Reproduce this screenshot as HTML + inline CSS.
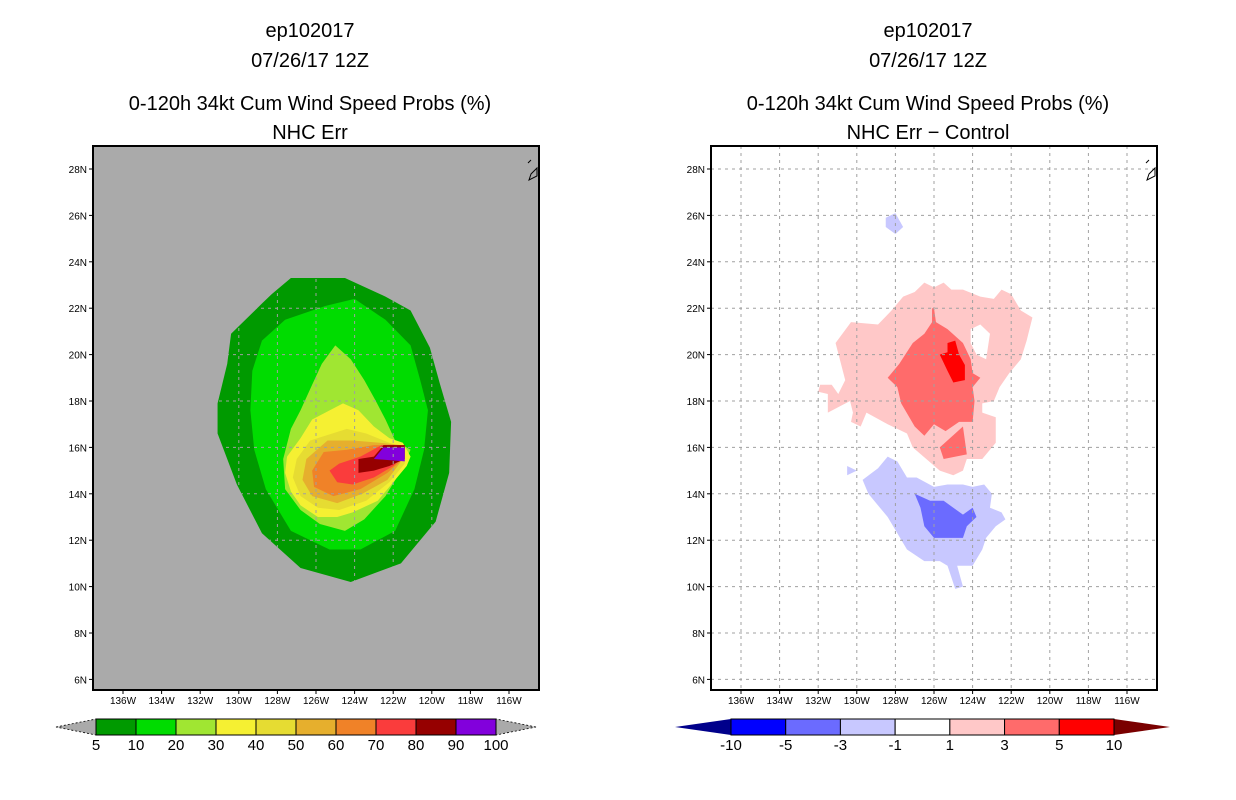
<!DOCTYPE html>
<html><head><meta charset="utf-8"><style>
body{margin:0;background:#fff;width:1236px;height:800px;overflow:hidden}
svg{display:block}
text{font-family:"Liberation Sans",sans-serif}
</style></head><body>
<svg id="c" width="1236" height="800" xmlns="http://www.w3.org/2000/svg"></svg>
<script>
// ---- data ----
const lonTicks=[136,134,132,130,128,126,124,122,120,118,116];
const latTicks=[28,26,24,22,20,18,16,14,12,10,8,6];
const leftLevels=[5,10,20,30,40,50,60,70,80,90,100];
const leftColors=["#009a00","#00dc00","#a0e632","#f5f032","#e6dc32","#e6af2d","#f08228","#fa3c3c","#960000","#8200dc"];
const rightLevels=["-10","-5","-3","-1","1","3","5","10"];
const rightColors=["#0000ff","#6b6bff","#c8c8ff","#ffffff","#ffc8c8","#ff6b6b","#ff0000"];
// contour polygons [lonW, latN]
const p5=[[127.3,23.3],[124.5,23.3],[122.4,22.5],[121.1,21.9],[120.1,20.3],[119.6,18.8],[119.0,17.1],[119.1,14.9],[119.8,12.8],[121.6,11.0],[124.2,10.2],[126.8,10.8],[128.8,12.3],[130.1,14.4],[131.1,16.6],[131.1,17.9],[130.6,19.6],[130.4,20.9],[128.8,22.2],[128.3,22.6]];
const p10=[[125.5,22.1],[124.0,22.4],[122.4,21.5],[121.1,20.4],[120.6,18.9],[120.2,17.6],[120.4,15.9],[120.9,14.2],[121.9,12.4],[123.7,11.6],[125.3,11.6],[127.3,12.4],[128.6,14.2],[129.2,15.9],[129.4,17.6],[129.3,19.3],[128.8,20.6],[127.6,21.5]];
const p20=[[125.0,20.4],[124.2,19.8],[123.5,18.9],[122.9,18.0],[122.4,17.2],[121.9,16.3],[121.1,15.9],[121.6,15.0],[122.4,13.9],[123.5,12.9],[124.5,12.4],[125.8,12.7],[126.8,13.3],[127.6,14.2],[127.7,15.5],[127.3,16.8],[126.8,17.6],[126.2,18.7],[125.7,19.6]];
const p30=[[124.6,17.9],[126.2,17.2],[126.8,16.4],[127.5,15.6],[127.6,14.9],[127.3,14.1],[126.8,13.5],[125.9,13.0],[124.9,13.0],[124.1,13.2],[122.8,13.7],[122.0,14.5],[121.3,15.2],[121.1,15.6],[121.5,16.2],[122.2,16.4],[123.0,16.9],[123.8,17.6]];
const p40=[[124.4,16.8],[126.3,16.3],[127.0,15.5],[127.2,14.7],[126.8,13.9],[125.9,13.4],[124.8,13.3],[123.4,13.7],[122.2,14.5],[121.4,15.3],[121.4,16.0],[122.2,16.2],[123.4,16.6]];
const p50=[[125.4,16.3],[126.5,15.5],[126.7,14.6],[126.2,13.9],[124.9,13.6],[123.6,14.0],[122.3,14.6],[121.5,15.5],[121.6,16.1],[122.7,16.2],[124.1,16.3]];
const p60=[[125.6,15.8],[126.2,15.0],[126.1,14.3],[125.1,13.9],[123.7,14.2],[122.3,14.9],[121.5,15.5],[121.9,16.1],[123.0,16.1],[124.4,15.9]];
const p70=[[125.3,15.0],[124.9,14.5],[124.1,14.4],[123.0,14.7],[122.0,15.2],[121.5,15.6],[121.6,16.1],[122.6,16.1],[123.7,15.6],[124.8,15.3]];
const p80=[[123.8,15.5],[123.8,14.9],[123.0,15.0],[122.2,15.2],[121.4,15.5],[121.4,16.1],[122.5,16.1],[123.0,15.6]];
const p90=[[123.0,15.5],[122.5,16.0],[121.4,16.0],[121.4,15.4]];
const leftPolys=[p5,p10,p20,p30,p40,p50,p60,p70,p80,p90];
// difference panel
const r1=[[127.0,22.7],[126.5,23.1],[126.0,22.9],[125.5,23.1],[125.1,22.8],[124.5,22.8],[123.6,22.5],[122.9,22.4],[122.5,22.8],[122.0,22.6],[121.5,21.9],[120.9,21.6],[121.2,20.6],[121.5,19.8],[122.1,19.2],[122.6,18.6],[122.9,18.0],[123.5,17.9],[123.5,17.5],[122.8,17.3],[122.8,16.2],[123.5,15.5],[124.3,15.5],[124.5,15.0],[125.0,14.8],[125.7,15.0],[126.4,15.5],[127.1,16.0],[127.4,16.6],[128.4,17.0],[129.5,17.5],[129.8,16.9],[130.3,17.1],[130.2,17.5],[130.35,18.0],[131.5,17.5],[131.5,18.3],[132.0,18.4],[131.9,18.7],[131.3,18.7],[130.96,18.3],[130.6,18.9],[131.1,20.5],[130.3,21.4],[128.9,21.3],[128.2,21.9],[127.6,22.5]];
const r1hole=[[124.1,21.1],[123.6,21.3],[123.1,20.9],[123.3,19.8],[123.8,20.0],[124.1,20.5]];
const r3a=[[126.0,22.0],[125.9,21.4],[125.3,21.1],[124.5,20.5],[124.1,19.8],[124.0,19.2],[123.6,19.0],[124.0,18.6],[123.9,18.0],[124.0,17.1],[124.7,17.1],[125.4,16.7],[126.0,17.0],[126.5,16.5],[127.0,16.9],[127.7,17.9],[127.9,18.6],[128.4,19.0],[127.8,19.6],[127.1,20.5],[126.5,20.9],[126.1,21.4],[126.1,22.0]];
const r3b=[[125.7,16.0],[124.5,16.9],[124.3,15.7],[125.5,15.5]];
const r5=[[125.3,20.5],[124.9,20.6],[124.7,20.0],[124.4,19.55],[124.4,18.9],[125.0,18.8],[125.3,19.3],[125.7,20.0],[125.3,20.1]];
const bm1=[[129.7,14.6],[128.9,15.1],[128.4,15.6],[127.9,15.4],[127.4,14.7],[126.9,14.7],[126.0,14.3],[125.3,14.4],[124.5,14.4],[124.0,14.3],[123.4,14.4],[123.0,14.0],[123.1,13.4],[122.5,13.2],[122.3,12.9],[122.8,12.6],[123.3,12.1],[123.5,11.6],[124.0,10.9],[124.8,10.9],[124.5,10.0],[124.9,9.9],[125.3,10.9],[125.7,11.1],[126.5,11.1],[127.4,11.6],[127.9,12.3],[128.4,13.0],[128.8,13.4],[129.4,14.0]];
const bm3=[[127.0,14.0],[126.2,13.7],[125.5,13.7],[124.5,13.1],[124.0,13.4],[123.8,13.0],[124.3,12.6],[124.5,12.1],[126.0,12.1],[126.5,12.6],[126.7,13.4]];
const bsm1=[[128.5,25.9],[128.0,26.1],[127.6,25.5],[128.0,25.2],[128.5,25.5]];
const bsm2=[[130.5,15.2],[130.0,15.0],[130.5,14.8]];
const rightPolys=[[r1,"#ffc8c8"],[r1hole,"#ffffff"],[r3a,"#ff6b6b"],[r3b,"#ff6b6b"],[r5,"#ff0000"],[bm1,"#c8c8ff"],[bm3,"#6b6bff"],[bsm1,"#c8c8ff"],[bsm2,"#c8c8ff"]];

// ---- axes ----
const NS="http://www.w3.org/2000/svg";
const svg=document.getElementById('c');
function xs(lon,off){return off+123+(136-lon)*19.3;}
function ys(lat){return 169+(28-lat)*23.2;}
function mk(tag,attrs,parent){const e=document.createElementNS(NS,tag);for(const k in attrs)e.setAttribute(k,attrs[k]);(parent||svg).appendChild(e);return e;}
function txt(s,x,y,size,anchor,parent){const t=mk('text',{x:x,y:y,'font-size':size,'text-anchor':anchor||'middle',fill:'#000'},parent);t.textContent=s;return t;}
function poly(pts,off,fill,parent){return mk('polygon',{points:pts.map(p=>xs(p[0],off)+','+ys(p[1])).join(' '),fill:fill},parent);}
const defs=mk('defs',{});
const cp=mk('clipPath',{id:'leftclip'},defs);
poly(p5,0,'#000',cp);

function panel(off,bg,title2,polys,name,clip){
  const g=mk('g',{});
  
  
  const bgr=mk('rect',{x:off+93,y:146,width:446,height:544,fill:bg},g);
  
  
  const cg=mk('g',{},g);
  
  
  polys.forEach(([pts,col])=>{const p=poly(pts,off,col,cg);
    
    });
  const ga={stroke:'#a0a0a0','stroke-width':1,'stroke-dasharray':'3,4'};
  if(clip)ga['clip-path']='url(#'+clip+')';
  const gg=mk('g',ga,g);
  
  
  lonTicks.forEach(l=>mk('line',{x1:xs(l,off),x2:xs(l,off),y1:146,y2:690},gg));
  latTicks.forEach(l=>mk('line',{x1:off+93,x2:off+539,y1:ys(l),y2:ys(l)},gg));
  const fr=mk('rect',{x:off+93,y:146,width:446,height:544,fill:'none',stroke:'#000','stroke-width':2},g);
  
  
  mk('path',{d:`M${off+528} 163 l3 -3 M${off+531} 174 l6 -6 l0 8 l-8 4 z`,stroke:'#000',fill:'none','stroke-width':1},g);
  const xa=mk('g',{},g);
  
  
  lonTicks.forEach(l=>{mk('line',{x1:xs(l,off),x2:xs(l,off),y1:690,y2:694,stroke:'#000'},xa);txt(l+'W',xs(l,off),704,10,'middle',xa);});
  const ya=mk('g',{},g);
  
  
  latTicks.forEach(l=>{mk('line',{x1:off+89,x2:off+93,y1:ys(l),y2:ys(l),stroke:'#000'},ya);txt(l+'N',off+87,ys(l)+4,10,'end',ya);});
  const cx=off+310;
  const t1=txt('ep102017',cx,37,20,'middle',g);
  const t2=txt('07/26/17 12Z',cx,67,20,'middle',g);
  const t3=txt('0-120h 34kt Cum Wind Speed Probs (%)',cx,110,20,'middle',g);
  const t4=txt(title2,cx,139,20,'middle',g);
}
panel(0,'#aaaaaa','NHC Err',leftPolys.map((p,i)=>[p,leftColors[i]]),'left-panel','leftclip');
panel(618,'#ffffff','NHC Err − Control',rightPolys,'right-panel',null);

// colorbars
function colorbar(x0,x1,y0,y1,colors,labels,lArrow,rArrow,name,aw){
  const g=mk('g',{});
  
  
  const w=(x1-x0)/colors.length, ym=(y0+y1)/2;
  mk('polygon',{points:`${x0-aw},${ym} ${x0},${y0} ${x0},${y1}`,fill:lArrow,stroke:lArrow==='#aaaaaa'?'#000':'none','stroke-dasharray':'2,2','stroke-width':0.8},g);
  mk('polygon',{points:`${x1+aw},${ym} ${x1},${y0} ${x1},${y1}`,fill:rArrow,stroke:rArrow==='#aaaaaa'?'#000':'none','stroke-dasharray':'2,2','stroke-width':0.8},g);
  colors.forEach((c,i)=>{const r=mk('rect',{x:x0+i*w,y:y0,width:w,height:y1-y0,fill:c,stroke:'#000','stroke-width':1},g);
    });
  labels.forEach((l,i)=>txt(String(l),x0+i*w,y1+15,15,'middle',g));
}
colorbar(96,496,719,735,leftColors,leftLevels,'#aaaaaa','#aaaaaa','left-colorbar',40);
colorbar(731,1114,719,735,rightColors,rightLevels,'#00008b','#7a0000','right-colorbar',56);
</script>
</body></html>
